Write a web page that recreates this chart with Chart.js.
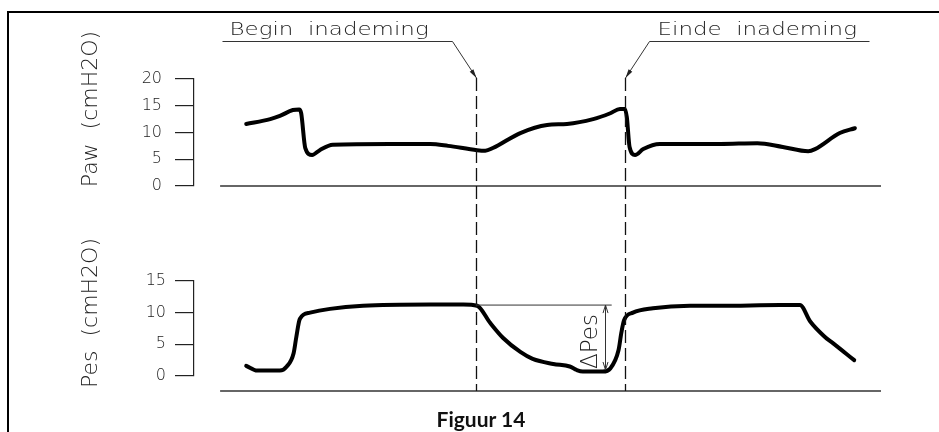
<!DOCTYPE html>
<html lang="nl">
<head>
<meta charset="UTF-8">
<title>Figuur 14</title>
<script src="https://cdn.jsdelivr.net/npm/chart.js"></script>
<style>
    body {
        margin: 0;
        background: #fff;
        width: 939px;
        height: 432px;
        overflow: hidden;
        position: relative;
    }
    .frame {
        position: absolute;
        left: 7px;
        top: 11px;
        width: 960px;
        height: 440px;
        border-left: 2px solid #000;
        border-top: 2px solid #000;
    }
    #pawChart { position: absolute; left: 0; top: 0; }
    #pesChart { position: absolute; left: 0; top: 216px; }
    .caption {
        position: absolute;
        left: 0;
        width: 962px;
        top: 406px;
        text-align: center;
        font: bold 21px Lato, "Open Sans", sans-serif;
        color: #111;
    }
</style>
</head>
<body>
<div class="frame"></div>
<canvas id="pawChart" width="939" height="216"></canvas>
<canvas id="pesChart" width="939" height="216"></canvas>
<div class="caption">Figuur 14</div>

<script>
    // tijd in willekeurige eenheden (0-100)
    const pawTime = [7.6, 11.1, 12.5, 14.4, 15.3, 15.6, 16.2, 17.2, 18.3, 20.2, 28.5, 34.4, 37.0, 41.2, 42.4, 43.5, 47.5, 51.4, 54.3, 58.1, 60.6, 62.0, 62.7, 63.0, 63.4, 64.2, 65.4, 67.8, 76.6, 82.0, 85.7, 89.4, 90.4, 94.0, 96.2];
    const pawValues = [11.6, 12.5, 13.1, 14.2, 14.3, 13.6, 7.1, 5.8, 6.7, 7.7, 7.85, 7.85, 7.5, 6.7, 6.6, 7.1, 9.9, 11.4, 11.6, 12.5, 13.6, 14.4, 14.4, 12.9, 7.3, 5.8, 6.9, 7.85, 7.85, 8.0, 7.3, 6.5, 6.9, 9.9, 10.8];

    const pesTime = [7.6, 9.2, 12.5, 13.5, 14.5, 14.9, 15.4, 16.9, 19.8, 24.6, 34.4, 39.2, 41.2, 43.1, 45.0, 47.5, 49.3, 52.3, 54.7, 55.7, 56.6, 59.5, 60.6, 61.8, 62.2, 62.6, 63.9, 66.8, 72.2, 76.6, 85.3, 88.2, 89.7, 91.8, 93.0, 96.1];
    const pesValues = [1.6, 0.85, 0.85, 1.5, 3.6, 6.2, 9.0, 10.0, 10.6, 11.1, 11.3, 11.3, 11.1, 8.4, 6.0, 3.8, 2.7, 1.9, 1.5, 0.95, 0.7, 0.7, 1.2, 4.1, 6.8, 8.8, 10.0, 10.7, 11.1, 11.1, 11.2, 11.2, 8.6, 6.2, 5.2, 2.5];

    const pawTicks = [0, 5, 10, 15, 20];
    const pesTicks = [0, 5, 10, 15];

    const markerTimes = [41.0, 62.7];
    const markerLabels = ['Begin  inademing', 'Einde  inademing'];

    const baselineTime = [3.8, 100];
    const pesBaseline = -2.37;

    // ΔPes: referentieniveau, laagste punt, plaats van pijl en einde van hulplijn
    const deltaLevels = [11.2, 0.95];
    const deltaTimes = [59.8, 60.8];

    const thinFont = '"DejaVu Sans", sans-serif';

    function vertText(ctx, text, cx, cy, size) {
        ctx.save();
        ctx.translate(cx, cy);
        ctx.rotate(-Math.PI / 2);
        ctx.font = '200 ' + size + 'px ' + thinFont;
        ctx.fillStyle = '#222';
        ctx.textAlign = 'center';
        ctx.textBaseline = 'middle';
        ctx.fillText(text, 0, 0);
        ctx.restore();
    }

    function wideText(ctx, text, x, y) {
        ctx.save();
        ctx.translate(x, y);
        ctx.scale(1.35, 1);
        ctx.font = '200 17px ' + thinFont;
        ctx.fillStyle = '#222';
        ctx.textBaseline = 'alphabetic';
        ctx.fillText(text, 0, 0);
        ctx.restore();
    }

    function dashed(ctx, x, y0, y1, offset) {
        ctx.save();
        ctx.strokeStyle = '#111';
        ctx.lineWidth = 1.3;
        ctx.setLineDash([13, 5]);
        ctx.lineDashOffset = offset || 0;
        ctx.beginPath();
        ctx.moveTo(x, y0);
        ctx.lineTo(x, y1);
        ctx.stroke();
        ctx.restore();
    }

    const pawDecor = {
        id: 'pawDecor',
        afterDraw(chart) {
            const ctx = chart.ctx, xs = chart.scales.x, ys = chart.scales.y;
            const topY = ys.getPixelForValue(pawTicks[pawTicks.length - 1]) - 1;

            markerTimes.forEach((t, i) => {
                const px = Math.round(xs.getPixelForValue(t)) + 0.5;
                dashed(ctx, px, topY, chart.height);

                const dir = i === 0 ? -1 : 1;
                const kneeX = px + dir * 24, kneeY = 41.5;
                const farX = i === 0 ? px - 254 : px + 244;
                ctx.save();
                ctx.strokeStyle = '#333';
                ctx.fillStyle = '#222';
                ctx.lineWidth = 1;
                ctx.beginPath();
                ctx.moveTo(farX, kneeY);
                ctx.lineTo(kneeX, kneeY);
                ctx.lineTo(px, topY);
                ctx.stroke();
                const a = Math.atan2(topY - kneeY, px - kneeX);
                ctx.beginPath();
                ctx.moveTo(px, topY);
                ctx.lineTo(px - 9 * Math.cos(a) + 2.2 * Math.sin(a), topY - 9 * Math.sin(a) - 2.2 * Math.cos(a));
                ctx.lineTo(px - 9 * Math.cos(a) - 2.2 * Math.sin(a), topY - 9 * Math.sin(a) + 2.2 * Math.cos(a));
                ctx.closePath();
                ctx.fill();
                ctx.restore();

                wideText(ctx, markerLabels[i], i === 0 ? px - 247 : px + 32, 35);
            });

            vertText(ctx, 'Paw  (cmH2O)', 91, 109, 22);
        }
    };

    const pesDecor = {
        id: 'pesDecor',
        afterDraw(chart) {
            const ctx = chart.ctx, xs = chart.scales.x, ys = chart.scales.y;
            const bottomY = ys.getPixelForValue(pesBaseline);

            markerTimes.forEach(t => {
                const px = Math.round(xs.getPixelForValue(t)) + 0.5;
                dashed(ctx, px, 0, bottomY, 138);
            });

            // ΔPes hulplijn en pijl
            const yRef = ys.getPixelForValue(deltaLevels[0]);
            const yLow = ys.getPixelForValue(deltaLevels[1]);
            const ax = Math.round(xs.getPixelForValue(deltaTimes[0])) + 0.5;
            ctx.save();
            ctx.strokeStyle = '#333';
            ctx.lineWidth = 1;
            ctx.beginPath();
            ctx.moveTo(xs.getPixelForValue(markerTimes[0]), yRef);
            ctx.lineTo(xs.getPixelForValue(deltaTimes[1]), yRef);
            ctx.moveTo(ax, yRef);
            ctx.lineTo(ax, yLow);
            ctx.moveTo(ax - 2.5, yRef + 8);
            ctx.lineTo(ax, yRef);
            ctx.lineTo(ax + 2.5, yRef + 8);
            ctx.moveTo(ax - 2.5, yLow - 8);
            ctx.lineTo(ax, yLow);
            ctx.lineTo(ax + 2.5, yLow - 8);
            ctx.stroke();
            ctx.restore();

            vertText(ctx, 'ΔPes', ax - 14, (yRef + yLow) / 2 + 4, 23);
            vertText(ctx, 'Pes  (cmH2O)', 91, 97, 22);
        }
    };

    function makeChart(id, time, values, ticks, baseValue, tickPad, padding, plugin) {
        return new Chart(document.getElementById(id), {
            type: 'line',
            data: {
                datasets: [
                    {
                        data: time.map((t, i) => ({ x: t, y: values[i] })),
                        borderColor: '#000',
                        borderWidth: 4,
                        pointRadius: 0,
                        cubicInterpolationMode: 'monotone',
                        borderCapStyle: 'round',
                        borderJoinStyle: 'round'
                    },
                    {
                        data: baselineTime.map(t => ({ x: t, y: baseValue })),
                        borderColor: '#333',
                        borderWidth: 1.4,
                        pointRadius: 0,
                        clip: false
                    }
                ]
            },
            options: {
                responsive: false,
                animation: false,
                devicePixelRatio: 1,
                events: [],
                layout: { padding: padding },
                plugins: { legend: { display: false }, tooltip: { enabled: false } },
                scales: {
                    x: { type: 'linear', min: 0, max: 100, display: false },
                    y: {
                        min: ticks[0],
                        max: ticks[ticks.length - 1],
                        afterFit: scale => { scale.width = 194; },
                        ticks: {
                            stepSize: ticks[1] - ticks[0],
                            padding: tickPad,
                            color: '#222',
                            font: { family: 'DejaVu Sans', size: 16, weight: 200 }
                        },
                        grid: {
                            drawOnChartArea: false,
                            drawTicks: true,
                            tickLength: 19,
                            color: '#222',
                            lineWidth: 1.2
                        },
                        border: { display: true, color: '#222', width: 1.2 }
                    }
                }
            },
            plugins: [plugin]
        });
    }

    makeChart('pawChart', pawTime, pawValues, pawTicks, 0, 13,
        { top: 79, bottom: 30, left: 0, right: 58 }, pawDecor);
    makeChart('pesChart', pesTime, pesValues, pesTicks, pesBaseline, 9,
        { top: 65, bottom: 56, left: 0, right: 58 }, pesDecor);
</script>
</body>
</html>
